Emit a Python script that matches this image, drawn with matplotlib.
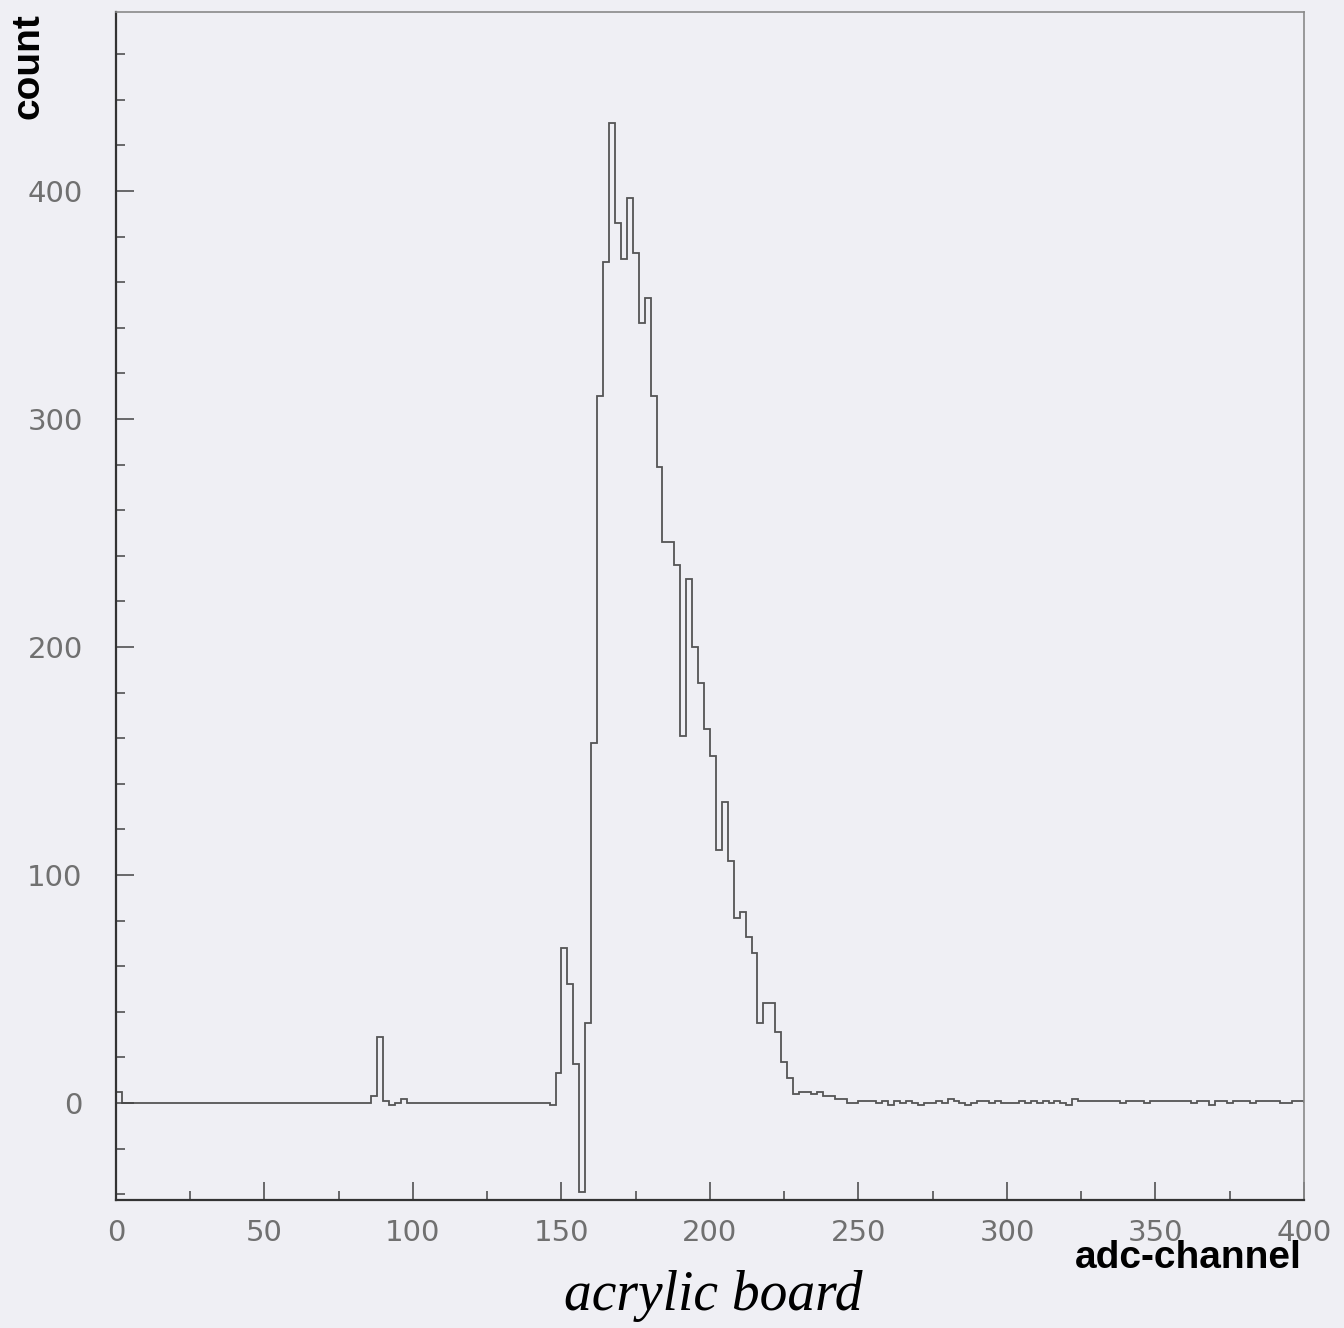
import matplotlib
matplotlib.use("Agg")
import matplotlib.pyplot as plt
import matplotlib.ticker as plticker
import numpy as np

# histogram: 200 bins of width 2 over adc channels 0..400
bin_edges = np.arange(0, 402, 2)

counts = (
    [5] + [0] * 42
    + [3, 29, 1, -1, 0, 2]                       # small bump near channel 90
    + [0] * 24
    + [-1, 13, 68, 52, 17, -39, 35]              # 146 .. 160
    + [158, 310, 369, 430, 386, 370, 397, 373,   # 160 .. 176
       342, 353, 310, 279, 246, 246, 236, 161,   # 176 .. 192
       230, 200, 184, 164, 152, 111, 132, 106,   # 192 .. 208
       81, 84, 73, 66, 35, 44, 44, 31,           # 208 .. 224
       18, 11, 4]                                # 224 .. 230
    + [5, 5, 4, 5, 3, 3, 2, 2, 0, 0,
       1, 1, 1, 0, 1, -1, 1, 0, 1, 0,
       -1, 0, 0, 1, 0, 2, 1, 0, -1, 0,
       1, 1, 0, 1, 0, 0, 0, 1, 0, 1,
       0, 1, 0, 1, 0, -1, 2, 1, 1, 1,
       1, 1, 1, 1, 0, 1, 1, 1, 0, 1,
       1, 1, 1, 1, 1, 1, 0, 1, 1, -1,
       1, 1, 0, 1, 1, 1, 0, 1, 1, 1,
       1, 0, 0, 1, 1]
)

x_ticks = [0, 50, 100, 150, 200, 250, 300, 350, 400]
y_ticks = [0, 100, 200, 300, 400]

bg = "#efeff4"
fig = plt.figure(figsize=(13.44, 13.28), dpi=100, facecolor=bg)
ax = fig.add_axes([0.0863, 0.0964, 0.8839, 0.8946], facecolor=bg)

ax.stairs(counts, bin_edges, color="#555555", linewidth=1.3)

ax.set_xlim(0, 400)
ax.set_ylim(-42.5, 478.5)

ax.set_xticks(x_ticks)
ax.set_yticks(y_ticks)
ax.xaxis.set_minor_locator(plticker.MultipleLocator(25))
ax.yaxis.set_minor_locator(plticker.MultipleLocator(20))

ax.tick_params(which="both", direction="in", color="#444444", width=1.1,
               labelcolor="#707070", labelsize=21)
ax.tick_params(which="major", length=13)
ax.tick_params(which="minor", length=6.5)
ax.tick_params(axis="x", pad=14)
ax.tick_params(axis="y", pad=24)

for side in ["left", "bottom"]:
    ax.spines[side].set_color("#333333")
    ax.spines[side].set_linewidth(1.6)
for side in ["top", "right"]:
    ax.spines[side].set_color("#8a8a8a")
    ax.spines[side].set_linewidth(1.2)

fig.text(28 / 1344, 1 - 13 / 1328, "count", rotation=90, ha="center", va="top",
         fontsize=28, fontweight="bold", family="Liberation Sans")
fig.text(1302 / 1344, 1 - 1268 / 1328, "adc-channel", ha="right", va="baseline",
         fontsize=28, fontweight="bold", family="Liberation Sans")
fig.text(713 / 1344, 1 - 1310 / 1328, "acrylic board", ha="center", va="baseline",
         fontsize=40, style="italic", family="Liberation Serif")

fig.savefig("out.png", dpi=100, facecolor=bg)
